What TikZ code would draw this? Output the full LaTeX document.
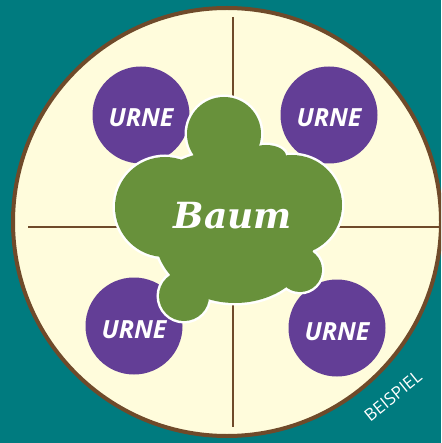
\documentclass[tikz,border=0pt]{standalone}
\usepackage{fontspec}
\newfontfamily\urnefont{Open Sans}
\newfontfamily\treefont{DejaVu Serif}

\definecolor{bgteal}{HTML}{007B7F}
\definecolor{cream}{HTML}{FFFCDC}
\definecolor{wood}{HTML}{6F4A2A}
\definecolor{urneviolet}{HTML}{633E96}
\definecolor{treegreen}{HTML}{68913B}

\begin{document}
\begin{tikzpicture}[x=1pt, y=-1pt,
    urne/.style={circle, fill=urneviolet, minimum size=97pt, inner sep=0pt,
      text height=24pt, text depth=0pt, text=white,
      font=\urnefont\bfseries\itshape\fontsize{25}{25}\selectfont},
    cross/.style={wood, line width=2.5pt}]
    \useasboundingbox[fill=bgteal] (0,0) rectangle (441,443);
    \clip (0,0) rectangle (441,443);

    % plate
    \node[circle, draw=wood, fill=cream, line width=4pt, minimum size=428pt, inner sep=0pt] (plate) at (227,222) {};

    \coordinate (n) at (233,17);
    \coordinate (s) at (233,427);
    \coordinate (w) at (28,227);
    \coordinate (e) at (439,227);
    \draw[cross] (n) -- (s);
    \draw[cross] (w) -- (e);

    % urns
    \node[urne] (u1) at (141,115) {URNE};
    \node[urne] (u2) at (329,115) {URNE};
    \node[urne] (u3) at (134,326) {URNE};
    \node[urne] (u4) at (337,328) {URNE};

    % tree
    \def\blobparts{224/134/37/37, 165/207/50/50, 292/205/50/50, 300/270/22/22,
      184/296/25/25, 235/235/80/68, 230/200/82/50, 266/156/20/11}
    \foreach \cx/\cy/\rx/\ry in \blobparts
      \draw[white, line width=5pt] (\cx,\cy) ellipse[x radius=\rx, y radius=\ry];
    \foreach \cx/\cy/\rx/\ry in \blobparts
      \fill[treegreen] (\cx,\cy) ellipse[x radius=\rx, y radius=\ry];
    \node[text=white, font=\treefont\bfseries\itshape\fontsize{36}{36}\selectfont] (tree) at (233,216) {Baum};

    \node[text=white, rotate=39, font=\urnefont\fontsize{17}{17}\selectfont] (tag) at (393,396) {BEISPIEL};
\end{tikzpicture}
\end{document}
